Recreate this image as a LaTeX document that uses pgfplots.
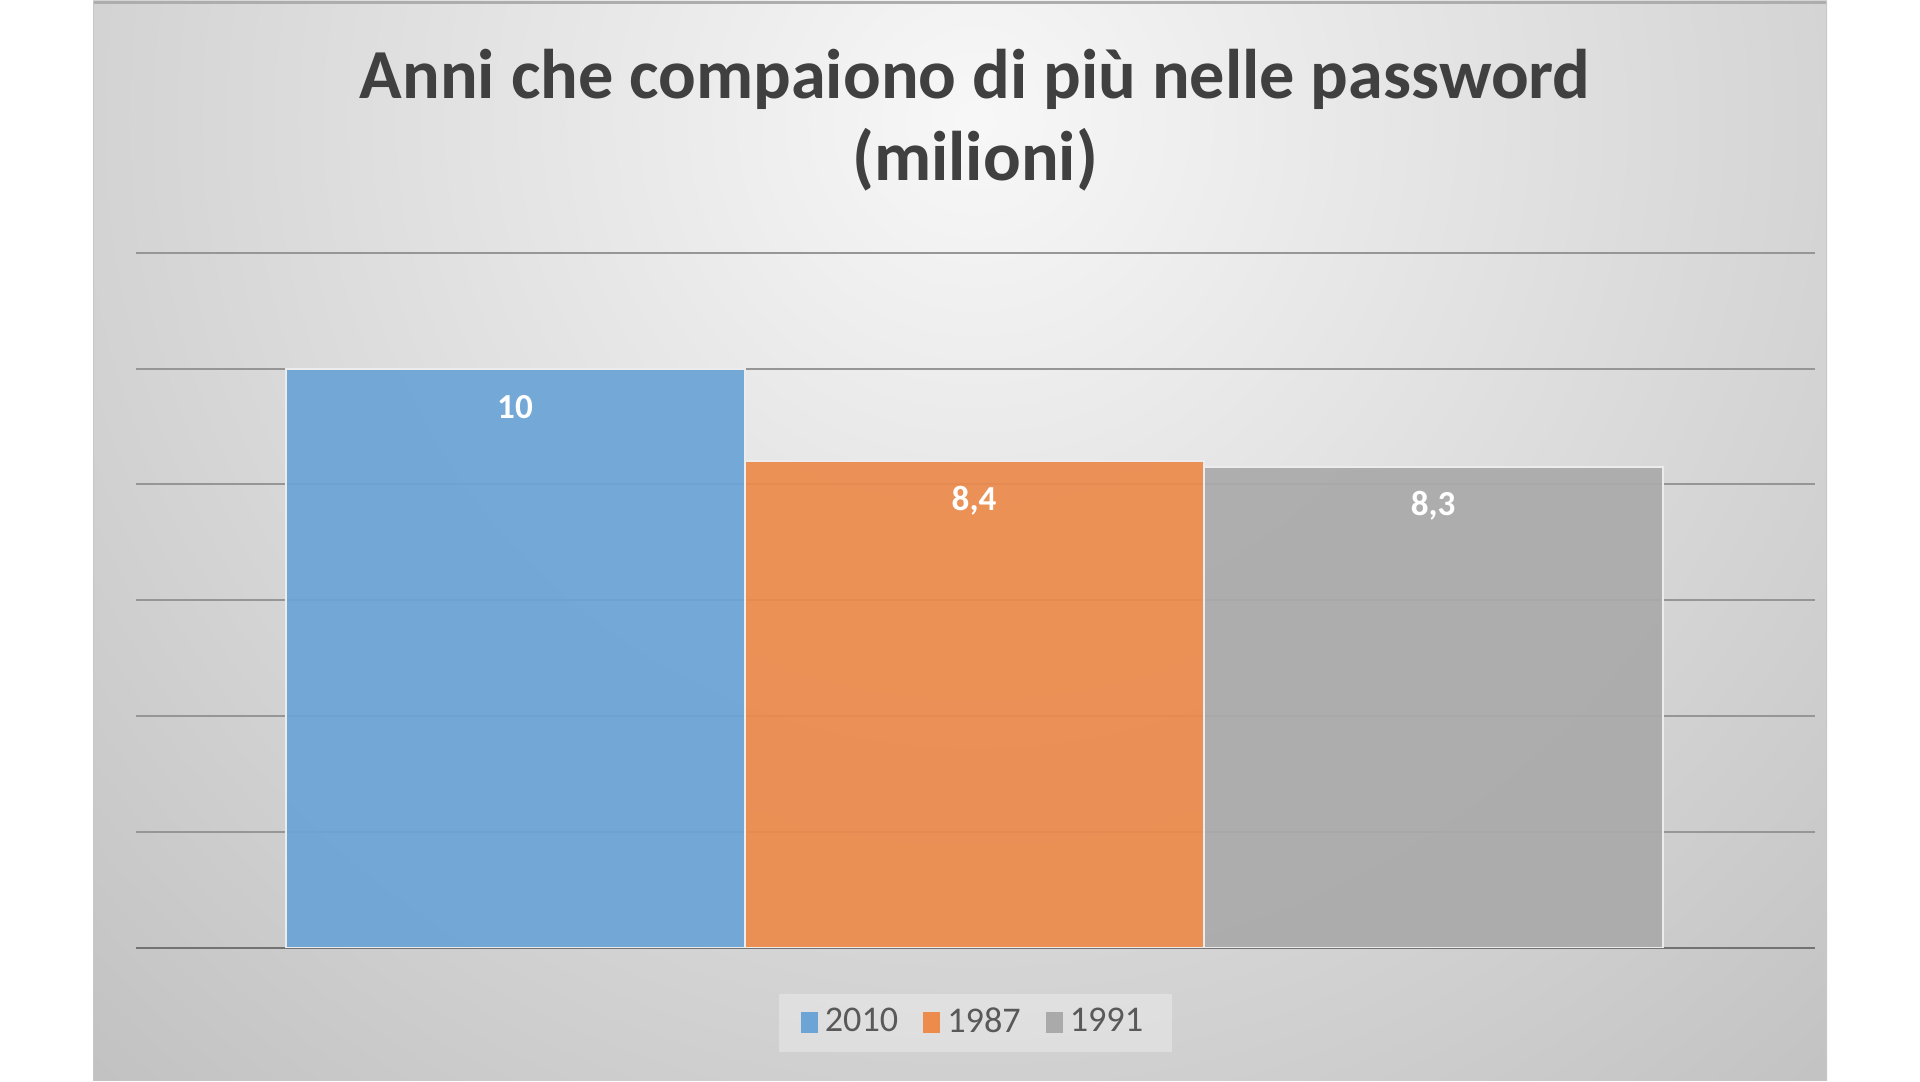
\documentclass[border=0pt]{standalone}
\usepackage{fontspec}
\setmainfont{Carlito}
\usepackage{pgfplots}
\pgfplotsset{compat=1.18}

\definecolor{barblue}{RGB}{108,164,214}
\definecolor{barorange}{RGB}{236,139,76}
\definecolor{bargray}{RGB}{170,170,170}
\definecolor{titlegray}{RGB}{64,64,64}
\definecolor{textgray}{RGB}{89,89,89}
\definecolor{gridgray}{RGB}{150,150,150}

\begin{document}
\begin{tikzpicture}
% page and grey gradient panel (1 px of the reference = 0.1 mm)
\fill[white] (0,0) rectangle (192mm,108mm);
\begin{scope}
    \clip (9.3mm,0) rectangle (182.7mm,108mm);
    \fill[black!24] (9.3mm,0) rectangle (182.7mm,108mm);
    \shade[inner color=black!3, outer color=black!24] (97.5mm,96mm) circle (130mm);
\end{scope}
\draw[black!32, line width=0.3mm] (9.3mm,107.85mm) -- (182.7mm,107.85mm);
\draw[black!22, line width=0.15mm] (9.35mm,0) -- (9.35mm,108mm);
\draw[black!22, line width=0.15mm] (182.65mm,0) -- (182.65mm,108mm);

% title
\node[anchor=base, text=titlegray, font=\bfseries\fontsize{20}{24}\selectfont]
    at (97.5mm,98.2mm) {Anni che compaiono di più nelle password};
\node[anchor=base, text=titlegray, font=\bfseries\fontsize{20}{24}\selectfont]
    at (97.5mm,90mm) {(milioni)};

\begin{axis}[
    at={(13.6mm,13.3mm)}, anchor=south west,
    scale only axis,
    width=167.9mm, height=69.5mm,
    xmin=-0.8257, xmax=2.832,
    ymin=0, ymax=12,
    ybar, bar width=45.9mm, bar shift=0pt,
    xtick=\empty,
    ytick={2,4,...,12},
    yticklabels={},
    major tick length=0pt,
    ymajorgrids,
    grid style={gridgray, line width=0.2mm},
    extra y ticks={0},
    extra y tick labels={},
    extra y tick style={grid style={black!55, line width=0.25mm}},
    axis line style={draw=none},
    nodes near coords,
    every node near coord/.append style={font=\bfseries\fontsize{10}{12}\selectfont,
        text=white, text opacity=1, anchor=center, yshift=-3.9mm},
    /pgf/number format/use comma,
    /pgf/number format/assume math mode=true,
    legend columns=3,
    legend image code/.code={\fill[#1, draw=none, fill opacity=1] (0mm,-1.05mm) rectangle (1.7mm,1.05mm);},
    legend style={at={(0.5,-0.108)}, anchor=center, draw=none,
        fill=white, fill opacity=0.3, text opacity=1, inner xsep=2.2mm,
        font=\fontsize{10.3}{12}\selectfont, text=textgray,
        /tikz/every even column/.append style={column sep=1.8mm}},
]
    \addplot[ybar, bar shift=0pt, fill=barblue, fill opacity=0.93, draw=white!85!gray, line width=0.2mm]
        coordinates {(0,10)};
    \addplot[ybar, bar shift=0pt, fill=barorange, fill opacity=0.93, draw=white!85!gray, line width=0.2mm]
        coordinates {(1,8.4)};
    \addplot[ybar, bar shift=0pt, fill=bargray, fill opacity=0.93, draw=white!85!gray, line width=0.2mm]
        coordinates {(2,8.3)};
    \legend{2010,1987,1991}
\end{axis}
\end{tikzpicture}
\end{document}
